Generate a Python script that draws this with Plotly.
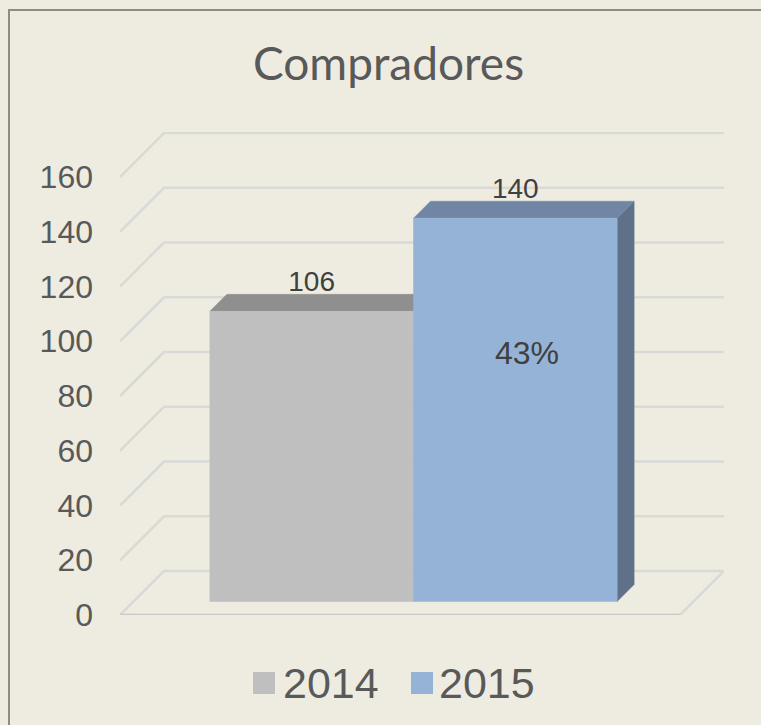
import plotly.graph_objects as go

# Data
title_text = "Compradores"
years = ["2014", "2015"]
values = [106, 140]
growth_label = "43%"
ticks = [0, 20, 40, 60, 80, 100, 120, 140, 160]

# Colours per series: front, top, side
front_colors = ["#BFBFBF", "#95B3D7"]
top_colors = ["#8F8F8F", "#7186A5"]
side_colors = ["#8F8F8F", "#5F7189"]
BG = "#EEECE1"
TXT = "#595959"
LBL = "#404040"

# Oblique projection of Excel-style 3D chart, in axis units
PX_PER_UNIT = 54.75 / 20
FLOOR_W = 560.0  # px of one unit of x
DEPTH_PX = 44.0
DX = DEPTH_PX / FLOOR_W
DY = DEPTH_PX / PX_PER_UNIT
Y_MAX = 483 / PX_PER_UNIT
X_MAX = 604 / FLOOR_W
GAP = 0.375
BAR_W = 1 / (len(values) + 2 * GAP)
D0, D1 = 0.307, 0.693


def proj(x, v, d):
    return x + d * DX, v + d * DY


fig = go.Figure()

# walls / gridlines (below traces)
shapes = []
for t in ticks:
    a = proj(0, t, 0)
    b = proj(0, t, 1)
    c = proj(1, t, 1)
    if t == 0:
        d = proj(1, 0, 0)
        path = f"M{a[0]},{a[1]} L{b[0]},{b[1]} L{c[0]},{c[1]} L{d[0]},{d[1]} Z"
    else:
        path = f"M{a[0]},{a[1]} L{b[0]},{b[1]} L{c[0]},{c[1]}"
    shapes.append(dict(type="path", path=path, xref="x", yref="y", layer="below",
                       line=dict(color="#D9D9D8", width=2.5)))
# floor front edge
a, d = proj(0, 0, 0), proj(1, 0, 0)
shapes.append(dict(type="line", x0=a[0], y0=a[1], x1=d[0], y1=d[1], xref="x", yref="y",
                   layer="below", line=dict(color="#CBCAC8", width=2.5)))


def poly(pts, color, name):
    xs = [p[0] for p in pts] + [pts[0][0]]
    ys = [p[1] for p in pts] + [pts[0][1]]
    fig.add_trace(go.Scatter(x=xs, y=ys, mode="lines", fill="toself", fillcolor=color,
                             line=dict(width=0.5, color=color), name=name,
                             showlegend=False, hoverinfo="skip", cliponaxis=False))


for i, (yr, v) in enumerate(zip(years, values)):
    x0 = GAP * BAR_W + i * BAR_W
    x1 = x0 + BAR_W
    if i == len(values) - 1:
        poly([proj(x1, 0, D0), proj(x1, 0, D1), proj(x1, v, D1), proj(x1, v, D0)],
             side_colors[i], yr + " side")
    poly([proj(x0, v, D0), proj(x1, v, D0), proj(x1, v, D1), proj(x0, v, D1)],
         top_colors[i], yr + " top")
    poly([proj(x0, 0, D0), proj(x1, 0, D0), proj(x1, v, D0), proj(x0, v, D0)],
         front_colors[i], yr)

# value labels
lx, ly = [], []
for i, v in enumerate(values):
    p = proj(GAP * BAR_W + (i + 0.5) * BAR_W, v, D1)
    lx.append(p[0] - 17 / FLOOR_W)
    ly.append(p[1] - 3.5 / PX_PER_UNIT)
fig.add_trace(go.Scatter(x=lx, y=ly, mode="text", text=[str(v) for v in values],
                         textposition="top center", showlegend=False, hoverinfo="skip",
                         textfont=dict(family="Liberation Sans", size=28, color=LBL),
                         cliponaxis=False))

annotations = [
    dict(text=growth_label, xref="paper", yref="paper", x=(527 - 120) / 604, y=(615 - 353) / 483,
         showarrow=False, xanchor="center", yanchor="middle",
         font=dict(family="Liberation Sans", size=32, color=LBL)),
    dict(text=title_text, xref="paper", yref="paper", x=(388 - 120) / 604, y=(615 - 62) / 483,
         showarrow=False, xanchor="center", yanchor="middle",
         font=dict(family="Lato", size=46, color=TXT)),
]

# legend
sw_x = [253, 411]
txt_x = [284, 440]
for i, yr in enumerate(years):
    shapes.append(dict(type="rect", xref="paper", yref="paper",
                       x0=(sw_x[i] - 120) / 604, x1=(sw_x[i] + 22 - 120) / 604,
                       y0=(615 - 694) / 483, y1=(615 - 672) / 483,
                       fillcolor=front_colors[i], line=dict(width=0)))
    annotations.append(dict(text=yr, xref="paper", yref="paper", x=(txt_x[i] - 120) / 604,
                            y=(615 - 683) / 483, showarrow=False, xanchor="left",
                            yanchor="middle", xshift=-3,
                            font=dict(family="Liberation Sans", size=43, color=TXT)))

# chart border (left and top visible, right/bottom run off the frame)
shapes.append(dict(type="rect", xref="paper", yref="paper",
                   x0=(9 - 120) / 604, x1=(900 - 120) / 604,
                   y0=(615 - 900) / 483, y1=(615 - 10) / 483,
                   line=dict(color="#8C8C88", width=2), fillcolor="rgba(0,0,0,0)"))

fig.update_layout(
    width=761, height=725, autosize=False,
    margin=dict(l=120, r=37, t=132, b=110),
    paper_bgcolor=BG, plot_bgcolor="rgba(0,0,0,0)",
    showlegend=False,
    shapes=shapes, annotations=annotations,
    xaxis=dict(range=[0, X_MAX], visible=False, fixedrange=True),
    yaxis=dict(range=[0, Y_MAX], tickmode="array", tickvals=ticks,
               ticktext=[str(t) for t in ticks], showgrid=False, zeroline=False,
               showline=False, ticks="", ticklabelstandoff=26,
               tickfont=dict(family="Liberation Sans", size=32, color=TXT), fixedrange=True),
)
fig.write_html("out.html", config={"displayModeBar": False},
               post_script="document.body.style.margin='0';document.documentElement.style.background='%s';document.documentElement.style.overflow='hidden';" % BG)
